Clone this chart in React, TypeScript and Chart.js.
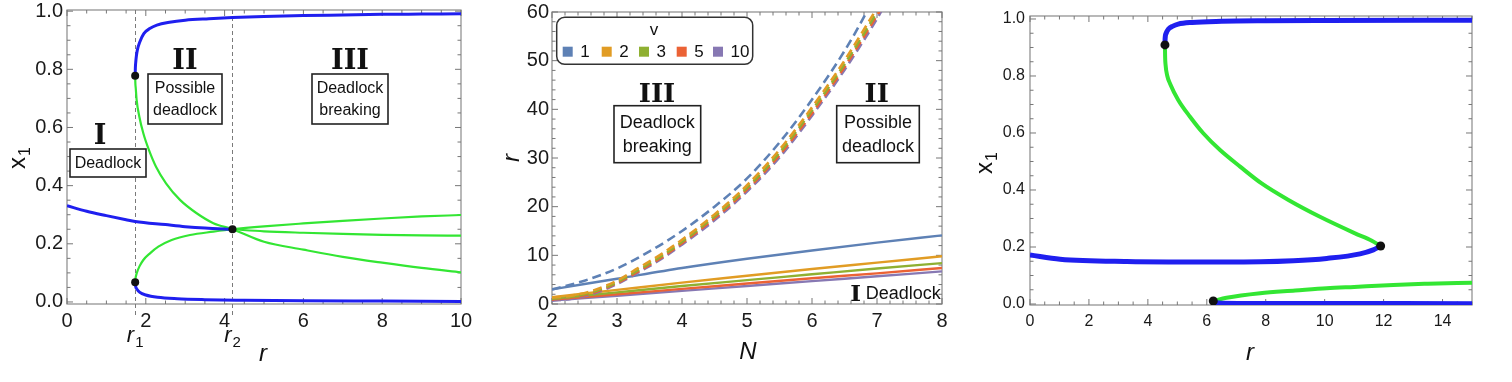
import React, { useEffect, useRef } from 'react';
import { Chart, registerables } from 'chart.js';
Chart.register(...registerables);

const FONT = '"Liberation Sans", Arial, sans-serif';
const SERIF = '"DejaVu Serif", serif';

// ---------- Panel 1 data (x1 vs r) ----------
const P1_X_TICKS = [0, 2, 4, 6, 8, 10];
const P1_Y_TICKS = [0, 0.2, 0.4, 0.6, 0.8, 1.0];
const P1_R1 = 1.73;
const P1_R2 = 4.2;
const P1_BLUE_TOP_R = [1.73, 1.735, 1.745, 1.76, 1.785, 1.85, 1.95, 2.1, 2.28, 2.6, 3.0, 3.6, 4.2, 5, 6, 7, 8, 9, 10];
const P1_BLUE_TOP_X = [0.778, 0.805, 0.825, 0.845, 0.866, 0.895, 0.923, 0.94, 0.952, 0.962, 0.969, 0.974, 0.978, 0.982, 0.985, 0.987, 0.989, 0.99, 0.991];
const P1_GREEN_A_R = [1.73, 1.735, 1.745, 1.768, 1.836, 1.937, 2.081, 2.259, 2.513, 2.868, 3.291, 3.714, 4.2, 5, 6, 7, 8, 9, 10];
const P1_GREEN_A_X = [0.778, 0.752, 0.735, 0.694, 0.637, 0.58, 0.522, 0.465, 0.408, 0.351, 0.305, 0.271, 0.25, 0.207, 0.18, 0.155, 0.135, 0.117, 0.102];
const P1_GREEN_B_R = [1.73, 1.735, 1.745, 1.768, 1.836, 1.937, 2.106, 2.318, 2.657, 3.122, 3.714, 4.2, 5, 6, 7, 8, 9, 10];
const P1_GREEN_B_X = [0.068, 0.078, 0.086, 0.0985, 0.1215, 0.1444, 0.1673, 0.1902, 0.2131, 0.2302, 0.2417, 0.25, 0.26, 0.27, 0.279, 0.287, 0.294, 0.299];
const P1_BLUE_MID_R = [0, 0.5, 1, 1.5, 1.73, 2.5, 3, 3.5, 4.2];
const P1_BLUE_MID_X = [0.331, 0.312, 0.297, 0.283, 0.277, 0.266, 0.259, 0.254, 0.25];
const P1_GREEN_MID_R = [4.2, 5, 6, 7, 8, 9, 10];
const P1_GREEN_MID_X = [0.25, 0.243, 0.238, 0.234, 0.231, 0.229, 0.228];
const P1_BLUE_LOW_R = [1.73, 1.74, 1.77, 1.85, 2, 2.3, 2.8, 3.5, 4.5, 6, 8, 10];
const P1_BLUE_LOW_X = [0.068, 0.055, 0.045, 0.033, 0.024, 0.016, 0.011, 0.008, 0.006, 0.004, 0.003, 0.002];
const P1_DOT_R = [1.73, 1.73, 4.2];
const P1_DOT_X = [0.778, 0.068, 0.25];

// ---------- Panel 2 data (r vs N) ----------
const P2_X_TICKS = [2, 3, 4, 5, 6, 7, 8];
const P2_Y_TICKS = [0, 10, 20, 30, 40, 50, 60];
const V_LABELS = ['1', '2', '3', '5', '10'];
const V_COLORS = ['#5E81B5', '#E19C24', '#8FB032', '#EB6235', '#8778B3'];
const N_SOLID = [2, 3, 4, 5, 6, 7, 8];
const SOLID_V1 = [3.0, 5.2, 7.4, 9.3, 11.0, 12.6, 14.1];
const SOLID_V2 = [1.4, 2.9, 4.4, 5.8, 7.2, 8.5, 9.8];
const SOLID_V3 = [1.1, 2.4, 3.7, 4.9, 6.1, 7.3, 8.4];
const SOLID_V5 = [0.9, 2.0, 3.1, 4.2, 5.3, 6.3, 7.4];
const SOLID_V10 = [0.7, 1.7, 2.7, 3.7, 4.7, 5.7, 6.7];
const N_DASH_V1 = [2, 2.5, 3, 3.5, 4, 4.5, 5, 5.5, 6, 6.5, 6.84, 6.95];
const DASH_V1 = [3.0, 4.8, 7.3, 10.8, 15.0, 20.0, 25.8, 33.2, 42.0, 52.0, 60, 63];
const N_DASH = [2, 2.3, 2.66, 3, 3.33, 3.7, 4, 4.5, 5, 5.5, 6, 6.5, 7, 7.1];
const DASH_V2 = [1.3, 1.7, 2.9, 4.8, 7.4, 10.4, 13.2, 18.4, 24.4, 31.7, 40.4, 50.0, 60.8, 63.0];
const DASH_V3 = [1.1, 1.5, 2.6, 4.5, 7.0, 10.0, 12.8, 18.0, 23.9, 31.1, 39.8, 49.3, 60.0, 62.4];
const DASH_V5 = [0.9, 1.3, 2.4, 4.3, 6.7, 9.7, 12.5, 17.6, 23.5, 30.6, 39.2, 48.7, 59.3, 61.6];
const DASH_V10 = [0.7, 1.1, 2.2, 4.1, 6.5, 9.4, 12.2, 17.2, 23.1, 30.1, 38.7, 48.1, 58.6, 61.0];

// ---------- Panel 3 data (x1 vs r) ----------
const P3_X_TICKS = [0, 2, 4, 6, 8, 10, 12, 14];
const P3_Y_TICKS = [0, 0.2, 0.4, 0.6, 0.8, 1.0];
const P3_BLUE_TOP_R = [4.58, 4.585, 4.62, 4.7, 4.85, 5.03, 5.5, 6.5, 8, 10, 15];
const P3_BLUE_TOP_X = [0.909, 0.93, 0.95, 0.965, 0.975, 0.982, 0.988, 0.992, 0.994, 0.995, 0.996];
const P3_GREEN_A_R = [4.58, 4.585, 4.6, 4.66, 4.75, 5.03, 5.43, 5.88, 6.45, 7.13, 7.86, 8.77, 9.84, 11.03, 11.6, 11.9];
const P3_GREEN_A_X = [0.909, 0.87, 0.84, 0.8, 0.774, 0.716, 0.657, 0.599, 0.54, 0.482, 0.423, 0.365, 0.306, 0.248, 0.222, 0.2035];
const P3_BLUE_MID_R = [0, 1.02, 3.28, 6.67, 8.94, 10.07, 11.2, 11.65, 11.9];
const P3_BLUE_MID_X = [0.172, 0.157, 0.149, 0.147, 0.152, 0.16, 0.176, 0.19, 0.2035];
const P3_GREEN_LOW_R = [6.22, 6.67, 7.81, 9, 10.07, 11, 12.33, 13.5, 15];
const P3_GREEN_LOW_X = [0.0105, 0.022, 0.038, 0.047, 0.055, 0.06, 0.067, 0.071, 0.075];
const P3_BLUE_LOW_R = [6.22, 6.5, 8, 15];
const P3_BLUE_LOW_X = [0.006, 0.003, 0.002, 0.001];
const P3_DOT_R = [4.58, 11.9, 6.22];
const P3_DOT_X = [0.909, 0.2035, 0.0105];

const BLUE = '#1f1fef';
const GREEN = '#33e633';

const zip = (xs: number[], ys: number[]) => xs.map((x, i) => ({ x, y: ys[i] }));

function line(xs: number[], ys: number[], color: string, width: number, dash?: number[]) {
  return {
    data: zip(xs, ys),
    showLine: true,
    borderColor: color,
    borderWidth: width,
    borderDash: dash || [],
    pointRadius: 0,
    cubicInterpolationMode: 'monotone',
    fill: false,
  };
}
function dots(xs: number[], ys: number[], r: number) {
  return {
    data: zip(xs, ys),
    showLine: false,
    pointRadius: r,
    pointBackgroundColor: '#111',
    pointBorderColor: '#111',
    pointBorderWidth: 0,
  };
}

function drawFrame(chart: any, xMajorStep: number, xMinor: number, yMajorStep: number, yMinor: number) {
  const { ctx, chartArea, scales } = chart;
  const { left, right, top, bottom } = chartArea;
  const xs = scales.x, ys = scales.y;
  ctx.save();
  ctx.strokeStyle = '#8a8a8a';
  ctx.lineWidth = 1.2;
  ctx.strokeRect(left, top, right - left, bottom - top);
  ctx.lineWidth = 1;
  ctx.strokeStyle = '#777';
  ctx.beginPath();
  const isMajor = (v: number, step: number) => Math.abs(v / step - Math.round(v / step)) < 1e-6;
  for (let n = Math.ceil(xs.min / xMinor - 1e-9); n * xMinor <= xs.max + 1e-9; n++) {
    const v = n * xMinor;
    const p = xs.getPixelForValue(v);
    const len = isMajor(v, xMajorStep) ? 6 : 3.5;
    ctx.moveTo(p, bottom); ctx.lineTo(p, bottom - len);
    ctx.moveTo(p, top); ctx.lineTo(p, top + len);
  }
  for (let n = Math.ceil(ys.min / yMinor - 1e-9); n * yMinor <= ys.max + 1e-9; n++) {
    const v = n * yMinor;
    const p = ys.getPixelForValue(v);
    const len = isMajor(v, yMajorStep) ? 6 : 3.5;
    ctx.moveTo(left, p); ctx.lineTo(left + len, p);
    ctx.moveTo(right, p); ctx.lineTo(right - len, p);
  }
  ctx.stroke();
  ctx.restore();
}

function txt(ctx: any, s: string, x: number, y: number, font: string, align = 'center') {
  ctx.font = font;
  ctx.fillStyle = '#111';
  ctx.textAlign = align;
  ctx.textBaseline = 'middle';
  ctx.fillText(s, x, y);
}
function subTxt(ctx: any, main: string, sub: string, x: number, y: number, size: number, italic: boolean) {
  const mf = `${italic ? 'italic ' : ''}${size}px ${FONT}`;
  const sf = `${Math.round(size * 0.68)}px ${FONT}`;
  ctx.font = mf; const w1 = ctx.measureText(main).width;
  ctx.font = sf; const w2 = ctx.measureText(sub).width;
  const x0 = x - (w1 + w2 + 1) / 2;
  ctx.fillStyle = '#111';
  ctx.textAlign = 'left';
  ctx.textBaseline = 'middle';
  ctx.font = mf; ctx.fillText(main, x0, y);
  ctx.font = sf; ctx.fillText(sub, x0 + w1 + 1, y + size * 0.3);
}
function boxTxt(ctx: any, x0: number, y0: number, x1: number, y1: number, lines: string[], ys: number[], size: number) {
  ctx.save();
  ctx.fillStyle = '#fff';
  ctx.fillRect(x0, y0, x1 - x0, y1 - y0);
  ctx.strokeStyle = '#222';
  ctx.lineWidth = 1.6;
  ctx.strokeRect(x0, y0, x1 - x0, y1 - y0);
  lines.forEach((l, i) => txt(ctx, l, (x0 + x1) / 2, ys[i], `${size}px ${FONT}`));
  ctx.restore();
}
function roman(ctx: any, s: string, x: number, y: number, size: number) {
  txt(ctx, s, x, y, `bold ${size}px ${SERIF}`);
}

function makeOptions(o: any) {
  return {
    responsive: false,
    animation: false,
    devicePixelRatio: 1,
    layout: { padding: o.padding },
    plugins: { legend: { display: false }, tooltip: { enabled: false } },
    scales: {
      x: {
        type: 'linear',
        min: o.xmin, max: o.xmax,
        grid: { display: false, drawTicks: false },
        border: { display: false },
        ticks: {
          font: { size: o.font, family: FONT }, color: '#1a1a1a', padding: o.xpad,
          autoSkip: false, maxRotation: 0, includeBounds: false,
          callback: (v: any) => String(v),
        },
        afterBuildTicks: (s: any) => { s.ticks = o.xticks.map((value: number) => ({ value })); },
        afterFit: (s: any) => { s.height = o.xh; s.paddingLeft = 0; s.paddingRight = 0; },
      },
      y: {
        type: 'linear',
        min: o.ymin, max: o.ymax,
        grid: { display: false, drawTicks: false },
        border: { display: false },
        ticks: {
          font: { size: o.font, family: FONT }, color: '#1a1a1a', padding: o.ypad,
          autoSkip: false, includeBounds: false,
          callback: (v: any) => (o.ydec ? Number(v).toFixed(1) : String(v)),
        },
        afterBuildTicks: (s: any) => { s.ticks = o.yticks.map((value: number) => ({ value })); },
        afterFit: (s: any) => { s.width = o.yw; s.paddingTop = 0; s.paddingBottom = 0; },
      },
    },
  };
}

function config1(): any {
  const datasets = [
    dots(P1_DOT_R, P1_DOT_X, 4),
    line(P1_BLUE_TOP_R, P1_BLUE_TOP_X, BLUE, 3),
    line(P1_BLUE_MID_R, P1_BLUE_MID_X, BLUE, 3),
    line(P1_BLUE_LOW_R, P1_BLUE_LOW_X, BLUE, 3),
    line(P1_GREEN_A_R, P1_GREEN_A_X, GREEN, 2.2),
    line(P1_GREEN_B_R, P1_GREEN_B_X, GREEN, 2.2),
    line(P1_GREEN_MID_R, P1_GREEN_MID_X, GREEN, 2.2),
  ];
  const plugin = {
    id: 'deco1',
    beforeDatasetsDraw(chart: any) {
      drawFrame(chart, 2, 0.5, 0.2, 0.05);
      const { ctx, chartArea, scales } = chart;
      ctx.save();
      ctx.strokeStyle = '#7a7a7a';
      ctx.lineWidth = 1;
      ctx.setLineDash([4, 3]);
      [P1_R1, P1_R2].forEach((r) => {
        const p = Math.round(scales.x.getPixelForValue(r)) + 0.5;
        ctx.beginPath(); ctx.moveTo(p, chartArea.top); ctx.lineTo(p, 318); ctx.stroke();
      });
      ctx.restore();
    },
    afterDraw(chart: any) {
      const { ctx, scales } = chart;
      ctx.save();
      roman(ctx, 'I', 100, 137, 27);
      boxTxt(ctx, 70, 149, 146, 177, ['Deadlock'], [164], 16);
      roman(ctx, 'II', 185, 62, 27);
      boxTxt(ctx, 148, 74, 222, 124, ['Possible', 'deadlock'], [89, 111], 16);
      roman(ctx, 'III', 350, 62, 27);
      boxTxt(ctx, 312, 74, 388, 124, ['Deadlock', 'breaking'], [89, 111], 16);
      subTxt(ctx, 'r', '1', scales.x.getPixelForValue(P1_R1), 336, 22, true);
      subTxt(ctx, 'r', '2', scales.x.getPixelForValue(P1_R2), 336, 22, true);
      txt(ctx, 'r', 263, 354, `italic 24px ${FONT}`);
      ctx.translate(18, 158);
      ctx.rotate(-Math.PI / 2);
      subTxt(ctx, 'x', '1', 0, 0, 24, false);
      ctx.restore();
    },
  };
  return {
    type: 'scatter',
    data: { datasets },
    options: makeOptions({
      padding: { left: 0, right: 19, top: 10, bottom: 38 },
      xmin: 0, xmax: 10, ymin: -0.007, ymax: 1.004,
      xticks: P1_X_TICKS, yticks: P1_Y_TICKS, ydec: true,
      font: 20, xpad: 5, ypad: 4, xh: 40, yw: 67,
    }),
    plugins: [plugin],
  };
}

function config2(): any {
  const solids = [SOLID_V1, SOLID_V2, SOLID_V3, SOLID_V5, SOLID_V10];
  const dashes = [DASH_V1, DASH_V2, DASH_V3, DASH_V5, DASH_V10];
  const datasets: any[] = [];
  dashes.forEach((d, i) => datasets.push(line(i === 0 ? N_DASH_V1 : N_DASH, d, V_COLORS[i], 2.6, [9, 5])));
  solids.forEach((s, i) => datasets.push(line(N_SOLID, s, V_COLORS[i], 2.4)));
  const plugin = {
    id: 'deco2',
    beforeDatasetsDraw(chart: any) {
      drawFrame(chart, 1, 0.2, 10, 2);
    },
    afterDraw(chart: any) {
      const { ctx } = chart;
      ctx.save();
      const bx0 = 66.7, by0 = 17.3, bx1 = 262.7, by1 = 64.3, rad = 8;
      ctx.fillStyle = '#fff';
      ctx.strokeStyle = '#333';
      ctx.lineWidth = 1.5;
      ctx.beginPath();
      ctx.roundRect(bx0, by0, bx1 - bx0, by1 - by0, rad);
      ctx.fill();
      ctx.stroke();
      txt(ctx, 'v', 164, 30, `17px ${FONT}`);
      const sq = [72.7, 111.7, 149, 186.7, 223];
      V_LABELS.forEach((l, i) => {
        ctx.fillStyle = V_COLORS[i];
        ctx.fillRect(sq[i], 46.7, 10, 10);
        txt(ctx, l, sq[i] + 17.5, 52, `17px ${FONT}`, 'left');
      });
      roman(ctx, 'III', 167, 95, 26);
      boxTxt(ctx, 124, 105.7, 210.7, 162.7, ['Deadlock', 'breaking'], [122.7, 146.7], 18);
      roman(ctx, 'II', 386.7, 95, 26);
      boxTxt(ctx, 346.7, 105.7, 429.3, 162.7, ['Possible', 'deadlock'], [122.7, 146.7], 18);
      roman(ctx, 'I', 365.7, 295, 23);
      txt(ctx, 'Deadlock', 375.7, 294.3, `18px ${FONT}`, 'left');
      txt(ctx, 'N', 258, 352, `italic 24px ${FONT}`);
      ctx.translate(22, 158);
      ctx.rotate(-Math.PI / 2);
      txt(ctx, 'r', 0, 0, `italic 24px ${FONT}`);
      ctx.restore();
    },
  };
  return {
    type: 'scatter',
    data: { datasets },
    options: makeOptions({
      padding: { left: 0, right: 28, top: 12, bottom: 38 },
      xmin: 2, xmax: 8, ymin: 0, ymax: 60,
      xticks: P2_X_TICKS, yticks: P2_Y_TICKS, ydec: false,
      font: 20, xpad: 5, ypad: 3, xh: 40, yw: 62,
    }),
    plugins: [plugin],
  };
}

function config3(): any {
  const datasets = [
    dots(P3_DOT_R, P3_DOT_X, 4.5),
    line(P3_BLUE_TOP_R, P3_BLUE_TOP_X, BLUE, 5),
    line(P3_BLUE_MID_R, P3_BLUE_MID_X, BLUE, 5),
    line(P3_BLUE_LOW_R, P3_BLUE_LOW_X, BLUE, 5),
    line(P3_GREEN_A_R, P3_GREEN_A_X, GREEN, 4),
    line(P3_GREEN_LOW_R, P3_GREEN_LOW_X, GREEN, 4),
  ];
  const plugin = {
    id: 'deco3',
    beforeDatasetsDraw(chart: any) {
      drawFrame(chart, 2, 0.5, 0.2, 0.05);
    },
    afterDraw(chart: any) {
      const { ctx } = chart;
      ctx.save();
      txt(ctx, 'r', 290, 353, `italic 24px ${FONT}`);
      ctx.translate(25, 163);
      ctx.rotate(-Math.PI / 2);
      subTxt(ctx, 'x', '1', 0, 0, 24, false);
      ctx.restore();
    },
  };
  return {
    type: 'scatter',
    data: { datasets },
    options: makeOptions({
      padding: { left: 0, right: 40, top: 16, bottom: 37 },
      xmin: 0, xmax: 15, ymin: -0.0035, ymax: 1.0105,
      xticks: P3_X_TICKS, yticks: P3_Y_TICKS, ydec: true,
      font: 16, xpad: 7, ypad: 5, xh: 40, yw: 70,
    }),
    plugins: [plugin],
  };
}

export default function App() {
  const c1 = useRef<HTMLCanvasElement>(null);
  const c2 = useRef<HTMLCanvasElement>(null);
  const c3 = useRef<HTMLCanvasElement>(null);
  useEffect(() => {
    const charts = [
      new Chart(c1.current as HTMLCanvasElement, config1()),
      new Chart(c2.current as HTMLCanvasElement, config2()),
      new Chart(c3.current as HTMLCanvasElement, config3()),
    ];
    return () => charts.forEach((c) => c.destroy());
  }, []);
  const cs = (left: number, width: number): any => ({ position: 'absolute', left, top: 0, width, height: 382 });
  return (
    <div style={{ position: 'fixed', left: 0, top: 0, width: 1512, height: 382, background: '#fff', overflow: 'hidden' }}>
      <canvas ref={c1} width={480} height={382} style={cs(0, 480)} />
      <canvas ref={c2} width={480} height={382} style={cs(490, 480)} />
      <canvas ref={c3} width={552} height={382} style={cs(960, 552)} />
    </div>
  );
}
